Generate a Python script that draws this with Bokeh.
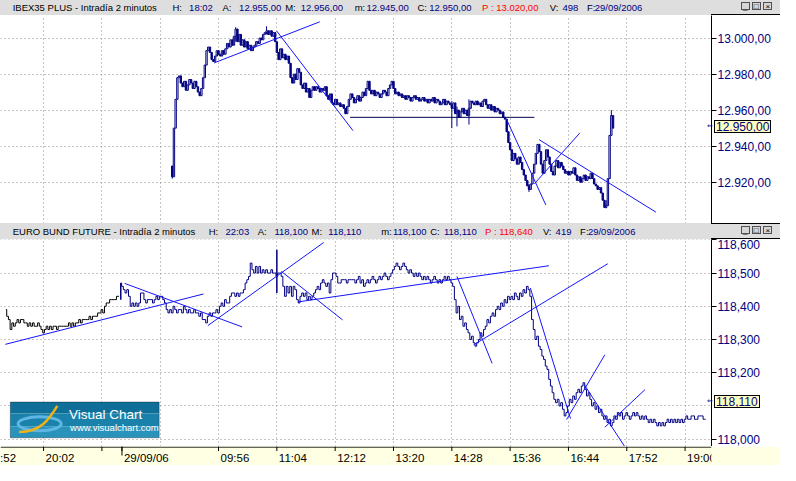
from bokeh.plotting import figure
from bokeh.layouts import column
from bokeh.models import FixedTicker, Label, BoxAnnotation, Div, Range1d, Grid, Span
from bokeh.core.properties import value
from bokeh.embed import file_html
from bokeh.resources import INLINE

# ---------------- data ----------------
# IBEX35 PLUS, 2-minute candles (close of each bar); open = previous close
ibex_first_open = 12929
ibex_close = [
    12923, 12950, 12966, 12978, 12979, 12975,
    12973, 12976, 12971, 12974, 12977, 12975, 12972, 12976, 12973, 12970,
    12968, 12972, 12978, 12985, 12993, 12995, 12992, 12988, 12987, 12990,
    12993, 12991, 12990, 12993, 12991, 12994, 12997, 12995, 12999, 12996, 13001,
    13005, 12998, 13002, 12996, 12999, 12995, 12998, 12994, 12996, 12993, 12995, 12996,
    12998, 12997, 13000, 12999, 13002, 13003, 13004, 13002, 13004, 13001, 13003,
    12998, 12992, 12988, 12994, 12989, 12991, 12988, 12990, 12986, 12978, 12975, 12980,
    12977, 12983, 12981, 12974, 12972, 12975, 12970, 12972, 12967, 12971, 12973,
    12971, 12973, 12972, 12970, 12972, 12971, 12973, 12968, 12966, 12969,
    12964, 12963, 12966, 12963, 12964, 12962, 12963, 12961, 12958, 12962, 12966, 12969,
    12967, 12964, 12966, 12968, 12965, 12967, 12970, 12968, 12972, 12976, 12971,
    12969, 12971, 12968, 12970, 12969, 12967, 12969, 12971, 12970, 12968,
    12972, 12974, 12976, 12972, 12969, 12970, 12968, 12969, 12967, 12968,
    12966, 12968, 12967, 12965, 12967, 12968, 12966, 12967, 12965, 12966,
    12967, 12965, 12966, 12964, 12966, 12965, 12967, 12964, 12966, 12965, 12963,
    12964, 12966, 12963, 12965, 12964, 12963, 12961, 12964, 12958,
    12960, 12956, 12959, 12961, 12958, 12960, 12957, 12961, 12965,
    12964, 12963, 12965, 12963, 12964, 12962, 12965, 12966, 12963, 12961, 12963,
    12960, 12962, 12959, 12961, 12960, 12958, 12959, 12956, 12955,
    12948, 12942, 12938, 12932, 12936, 12933, 12930, 12934, 12931,
    12927, 12924, 12921, 12918, 12916, 12919, 12925, 12930, 12936, 12941, 12937,
    12930, 12925, 12932, 12938, 12934, 12930, 12926, 12924, 12929, 12932, 12928,
    12931, 12929, 12927, 12925, 12926, 12924, 12926, 12925, 12928,
    12924, 12921, 12923, 12920, 12922, 12924, 12921, 12923, 12922,
    12925, 12922, 12919, 12918, 12916, 12917, 12914, 12910, 12906, 12907,
    12922, 12946, 12957, 12950,
]
ibex_start_bar = 75
ibex_wick_bar = [0, 37, 55, 163, 166, 173, 208, 253, 256]
ibex_wick_low = [12922, 12998, 13002, 12950, 12951, 12952, 12914.6, 12905.5, 12946]
ibex_wick_high = [12929, 13006, 13006.5, 12965, 12962, 12966, 12919, 12910, 12960]

# EURO BUND FUTURE, 2-minute closes: previous session (black) and current (navy)
bund_prev_start = -22
bund_prev = [
    118.39, 118.37, 118.36, 118.33, 118.35, 118.34, 118.35, 118.36, 118.35, 118.36,
    118.36, 118.35, 118.35, 118.34, 118.35, 118.34, 118.35, 118.34, 118.34, 118.35,
    118.34, 118.33, 118.32, 118.33, 118.34, 118.33, 118.34, 118.33, 118.34, 118.34,
    118.33, 118.34, 118.34, 118.34, 118.34, 118.34, 118.34, 118.35, 118.34, 118.35,
    118.34, 118.35, 118.35, 118.36, 118.35, 118.36, 118.36, 118.36, 118.36, 118.37,
    118.36, 118.37, 118.37, 118.37, 118.38, 118.38, 118.39, 118.38, 118.40, 118.41,
    118.41, 118.42, 118.42, 118.42, 118.42, 118.43, 118.43,
]
bund_cur_start = 45
bund_cur = [
    118.47, 118.46, 118.45, 118.44, 118.45, 118.43,
    118.40, 118.41, 118.40, 118.41, 118.40, 118.41,
    118.44, 118.44, 118.42, 118.41, 118.42, 118.42,
    118.42, 118.41, 118.42, 118.43, 118.42, 118.43,
    118.43, 118.42, 118.41, 118.39, 118.38, 118.39,
    118.38, 118.40, 118.39, 118.38, 118.39, 118.39,
    118.38, 118.40, 118.39, 118.38, 118.39, 118.38,
    118.38, 118.39, 118.38, 118.38, 118.37, 118.38,
    118.36, 118.36, 118.35, 118.37, 118.38, 118.37,
    118.38, 118.38, 118.39, 118.38, 118.40, 118.41,
    118.40, 118.42, 118.41, 118.41, 118.43, 118.44,
    118.44, 118.43, 118.44, 118.43, 118.44, 118.44,
    118.45, 118.47, 118.48, 118.49, 118.53, 118.51,
    118.50, 118.52, 118.50, 118.52, 118.50, 118.51,
    118.50, 118.51, 118.50, 118.50, 118.51, 118.50,
    118.50, 118.49, 118.50, 118.50, 118.49, 118.46,
    118.43, 118.46, 118.44, 118.46, 118.43, 118.46,
    118.45, 118.42, 118.41, 118.43, 118.44, 118.43,
    118.44, 118.42, 118.43, 118.42, 118.43, 118.44,
    118.45, 118.46, 118.45, 118.47, 118.48, 118.47,
    118.46, 118.47, 118.44, 118.48, 118.50, 118.50,
    118.49, 118.47, 118.47, 118.48, 118.48, 118.48,
    118.47, 118.48, 118.48, 118.48,
    118.48, 118.47, 118.48, 118.49, 118.47, 118.48, 118.46, 118.47, 118.48, 118.47,
    118.48, 118.49, 118.48, 118.47, 118.48, 118.49, 118.48, 118.49, 118.50, 118.49,
    118.48, 118.49, 118.50, 118.51, 118.52, 118.53, 118.52, 118.51, 118.52, 118.53,
    118.52, 118.51, 118.50, 118.51, 118.50, 118.49, 118.50, 118.49, 118.50, 118.49,
    118.48, 118.49, 118.48, 118.49, 118.48, 118.47, 118.48, 118.49, 118.48, 118.47,
    118.48, 118.47, 118.48, 118.49, 118.48, 118.49, 118.48, 118.47,
    118.46, 118.42, 118.38, 118.40, 118.36, 118.37, 118.34, 118.35, 118.33, 118.32,
    118.30, 118.31, 118.29, 118.28, 118.29, 118.30, 118.32, 118.31, 118.33, 118.34,
    118.36, 118.35, 118.37, 118.38, 118.37, 118.39, 118.40, 118.39, 118.41, 118.40,
    118.42, 118.41, 118.43, 118.42, 118.43, 118.42, 118.44, 118.43, 118.42, 118.44,
    118.43, 118.45, 118.44, 118.46, 118.45, 118.43, 118.36, 118.33, 118.30, 118.31,
    118.28, 118.27, 118.25, 118.24, 118.22, 118.21, 118.18, 118.16, 118.14, 118.12,
    118.11, 118.12, 118.10, 118.11, 118.09, 118.07, 118.08, 118.10, 118.12, 118.11,
    118.13, 118.12, 118.14, 118.15, 118.14, 118.16, 118.17, 118.15, 118.13, 118.14,
    118.12, 118.10, 118.11, 118.09, 118.10, 118.08, 118.09, 118.07, 118.06, 118.07,
    118.05, 118.06, 118.04, 118.05, 118.07, 118.06, 118.08, 118.07, 118.08, 118.06,
    118.07, 118.08, 118.07, 118.06, 118.07, 118.08, 118.07, 118.08, 118.07, 118.06,
    118.07, 118.06, 118.07, 118.06, 118.05, 118.06, 118.05, 118.06, 118.05, 118.04,
    118.05, 118.04, 118.05, 118.04, 118.05, 118.06, 118.05, 118.06, 118.05, 118.06,
    118.05, 118.06, 118.05, 118.06, 118.05, 118.06, 118.07, 118.06, 118.06, 118.07,
    118.07, 118.06, 118.06, 118.07, 118.07, 118.07, 118.06, 118.06,
]
bund_spike_bar = [45, 136]
bund_spike_low = [118.42, 118.44]
bund_spike_high = [118.47, 118.57]

# hand-drawn trend lines (bar index, price)
ibex_tl_x0 = [99.4, 135.9, 269.9, 286.1, 288.9]
ibex_tl_y0 = [12986.2, 13003.9, 12954.9, 12919.1, 12943.6]
ibex_tl_x1 = [161.0, 180.4, 292.8, 312.7, 357.0]
ibex_tl_y1 = [13009.0, 12948.6, 12907.4, 12947.4, 12903.4]
ibex_hline_x0 = [178.7]
ibex_hline_x1 = [286.1]
ibex_hline_y = [12956]

bund_tl_x0 = [-22.3, 47.2, 95.8, 138.6, 148.1, 241.0, 250.7, 283.8, 304.9, 315.2, 327.2]
bund_tl_y0 = [118.2855, 118.469, 118.342, 118.505, 118.413, 118.490, 118.284, 118.455, 118.059, 118.164, 118.036]
bund_tl_x1 = [93.2, 115.7, 163.3, 174.3, 294.6, 261.5, 328.9, 307.2, 327.2, 340.3, 350.6]
bund_tl_y1 = [118.437, 118.338, 118.592, 118.359, 118.522, 118.228, 118.528, 118.062, 118.254, 117.966, 118.149]

# axes
ibex_ticks = [12920, 12940, 12960, 12980, 13000]
ibex_tick_labels = ["12.920,00", "12.940,00", "12.960,00", "12.980,00", "13.000,00"]
bund_grid_ticks = [118.0, 118.1, 118.2, 118.3, 118.4, 118.5, 118.6]
bund_ticks = [118.0, 118.2, 118.3, 118.4, 118.5, 118.6]
bund_tick_labels = ["118,000", "118,200", "118,300", "118,400", "118,500", "118,600"]
x_grid_ticks = [-34, 0, 34, 68, 102, 136, 170, 204, 238, 272, 306, 340, 374]
x_tick_pos = [-34, 0, 34, 45.7, 102, 136, 170, 204, 238, 272, 306, 340, 374]
x_tick_labels = ["18:52", "20:02", "", "29/09/06", "09:56", "11:04", "12:12",
                 "13:20", "14:28", "15:36", "16:44", "17:52", "19:00"]
day_break_bar = [45.7]

ibex_last = 12950
ibex_last_label = "12.950,00"
bund_last = 118.11
bund_last_label = "118,110"

ibex_header = [("IBEX35 PLUS - Intradía 2 minutos", "k"), ("H:", "k"), ("18:02", "v"),
               ("A:", "k"), ("12.955,00", "v"), ("M:", "k"), ("12.956,00", "v"),
               ("m:", "k"), ("12.945,00", "v"), ("C:", "k"), ("12.950,00", "v"),
               ("P : 13.020,00", "r"), ("V:", "k"), ("498", "v"), ("F:", "k"), ("29/09/2006", "v")]
bund_header = [("EURO BUND FUTURE - Intradía 2 minutos", "k"), ("H:", "k"), ("22:03", "v"),
               ("A:", "k"), ("118,100", "v"), ("M:", "k"), ("118,110", "v"),
               ("m:", "k"), ("118,100", "v"), ("C:", "k"), ("118,110", "v"),
               ("P : 118,640", "r"), ("V:", "k"), ("419", "v"), ("F:", "k"), ("29/09/2006", "v")]

# ---------------- layout / style ----------------
SX = 780 / 796.0
FRAME_W = 711
RIGHT_W = 69
HEAD1_H = 15
P1_H = 208
HEAD2_H = 16
P2_H = 207
STRIP_H = 19
X_LO, X_HI = -25.12, 389.4
Y1_LO, Y1_HI = 12897.1, 13012.5
Y2_LO, Y2_HI = 117.978, 118.601

NAVY = "#000080"
TREND = "#1414ff"
GRID = "#8a8a8a"
STRIP = "#ffffe3"
HEAD_BG = "#dedede"
FONT = "Liberation Sans"
COLORS = {"k": "#000000", "v": NAVY, "r": "#ff0000"}

ibex_head_x = [13, 176, 193, 227, 244, 291, 307, 362, 374, 426, 438, 492, 561, 574, 599, 607]
bund_head_x = [13, 213, 230, 263, 280, 318, 335, 389, 401, 439, 453, 495, 554, 567, 592, 600]


def value_box(txt, top):
    # current-price tag that sits on the right price scale
    left = (FRAME_W + 3)
    return (f'<span style="position:absolute;left:{left - 7}px;top:{top + 2}px;font-family:\'DejaVu Sans\';'
            f'font-size:7px;line-height:8px;color:{NAVY};z-index:20;">&#8656;</span>'
            f'<span style="position:absolute;left:{left}px;top:{top}px;height:13px;padding:0 1px;'
            f'line-height:13px;font-size:12px;color:{NAVY};background:#ffffc0;'
            f'border:1px solid #000;white-space:nowrap;z-index:20;">{txt}</span>')


def hline(y):
    return (f'<div style="position:absolute;left:{FRAME_W}px;top:{y}px;width:{780 - FRAME_W}px;'
            f'height:1px;background:#000;"></div>')


def header(items, xs, h, top, extra=""):
    spans = []
    for (txt, c), x in zip(items, xs):
        spans.append(
            f'<span style="position:absolute;left:{x * SX:.1f}px;top:{top}px;'
            f'color:{COLORS[c]};white-space:nowrap;">{txt}</span>')
    for bx, glyph in zip([756, 767, 779], ["_", "&#9633;", "&#215;"]):
        spans.append(
            f'<span style="position:absolute;left:{bx * SX:.1f}px;top:{top}px;width:9px;'
            f'height:8px;border:1px solid #505050;background:#d6d6d6;font-size:8px;'
            f'line-height:7px;text-align:center;color:#000;">{glyph}</span>')
    html = (f'<div style="position:relative;width:780px;height:{h}px;'
            f'font-family:\'{FONT}\',Arial,sans-serif;font-size:9.5px;line-height:11px;">'
            f'<div style="position:absolute;left:0;top:0;width:780px;height:{h}px;background:{HEAD_BG};"></div>'
            + "".join(spans) + extra + "</div>")
    return Div(text=html, width=780, height=h, margin=(0, 0, 0, 0), styles={"overflow": "visible"})


xr = Range1d(X_LO, X_HI)


def panel(y_lo, y_hi, h, grid_ticks, ticks, labels):
    p = figure(frame_width=FRAME_W, frame_height=h, x_range=xr, y_range=Range1d(y_lo, y_hi),
               x_axis_location=None, y_axis_location="right", toolbar_location=None, tools="",
               output_backend="svg", min_border_left=0, min_border_right=RIGHT_W,
               min_border_top=0, min_border_bottom=0, outline_line_color=None,
               background_fill_color="white", border_fill_color="white")
    for r in list(p.center):
        if isinstance(r, Grid):
            r.visible = False
    p.add_layout(Grid(dimension=0, ticker=FixedTicker(ticks=x_grid_ticks),
                      grid_line_color=GRID, grid_line_dash="1 3"))
    p.add_layout(Grid(dimension=1, ticker=FixedTicker(ticks=grid_ticks),
                      grid_line_color=GRID, grid_line_dash="1 3"))
    ax = p.yaxis[0]
    ax.ticker = FixedTicker(ticks=ticks, minor_ticks=[])
    ax.major_label_overrides = {t: l for t, l in zip(ticks, labels)}
    ax.axis_line_color = "black"
    ax.major_tick_line_color = "black"
    ax.major_tick_out = 5
    ax.major_tick_in = 0
    ax.minor_tick_line_color = None
    ax.major_label_standoff = 1
    ax.major_label_text_color = NAVY
    ax.major_label_text_font = FONT
    ax.major_label_text_font_size = "12px"
    return p


# ---- top panel: IBEX candles ----
p1 = panel(Y1_LO, Y1_HI, P1_H, ibex_ticks, ibex_ticks, ibex_tick_labels)
ibex_open = [ibex_first_open] + ibex_close[:-1]
ibex_x = [ibex_start_bar + i for i in range(len(ibex_close))]
up_x, up_t, up_b, dn_x, dn_t, dn_b = [], [], [], [], [], []
for x, o, c in zip(ibex_x, ibex_open, ibex_close):
    if c >= o:
        up_x.append(x); up_t.append(c); up_b.append(o)
    else:
        dn_x.append(x); dn_t.append(o); dn_b.append(c)
wx = [ibex_start_bar + i for i in ibex_wick_bar]
p1.segment(x0=wx, y0=ibex_wick_low, x1=wx, y1=ibex_wick_high, line_color=NAVY, line_width=1)
p1.vbar(x=dn_x, width=0.8, top=dn_t, bottom=dn_b, fill_color=NAVY, line_color=NAVY, line_width=1)
p1.vbar(x=up_x, width=0.8, top=up_t, bottom=up_b, fill_color="white", line_color=NAVY, line_width=1)
p1.segment(x0=ibex_tl_x0, y0=ibex_tl_y0, x1=ibex_tl_x1, y1=ibex_tl_y1, line_color=TREND, line_width=1)
p1.segment(x0=ibex_hline_x0, y0=ibex_hline_y, x1=ibex_hline_x1, y1=ibex_hline_y,
           line_color="#00005a", line_width=1)

# ---- bottom panel: Bund ----
p2 = panel(Y2_LO, Y2_HI, P2_H, bund_grid_ticks, bund_ticks, bund_tick_labels)
prev_x = [bund_prev_start + i for i in range(len(bund_prev))]
cur_x = [bund_cur_start + i for i in range(len(bund_cur))]
p2.step(prev_x, bund_prev, mode="center", line_color="black", line_width=1)
p2.step(cur_x, bund_cur, mode="center", line_color=NAVY, line_width=1)
p2.segment(x0=bund_spike_bar, y0=bund_spike_low, x1=bund_spike_bar, y1=bund_spike_high,
           line_color=NAVY, line_width=1.5)
p2.segment(x0=bund_tl_x0, y0=bund_tl_y0, x1=bund_tl_x1, y1=bund_tl_y1, line_color=TREND, line_width=1)


# Visual Chart logo (decoration, frame-relative screen px)
def fx(px):
    return px * FRAME_W / 726.0


def fy(py):
    return (461 - py) * P2_H / 214.0


def dx(px):
    return X_LO + px / 726.0 * (X_HI - X_LO)


def dy(py):
    return Y2_LO + (461 - py) / 214.0 * (Y2_HI - Y2_LO)


for top, bot, col in [(415, 427, "#0f6f98"), (427, 440, "#1a81aa"), (440, 452, "#2a93bb")]:
    p2.add_layout(BoxAnnotation(left=fx(10), right=fx(162), top=fy(top), bottom=fy(bot),
                                left_units="screen", right_units="screen", top_units="screen",
                                bottom_units="screen", fill_color=col, fill_alpha=1,
                                line_color=None))
p2.add_layout(BoxAnnotation(left=fx(10), right=fx(162), top=fy(415), bottom=fy(452),
                            left_units="screen", right_units="screen", top_units="screen",
                            bottom_units="screen", fill_alpha=0, line_color="black", line_width=1))
p2.add_layout(Label(x=fx(70), y=fy(427.5), x_units="screen", y_units="screen", text="Visual Chart",
                    text_font=FONT, text_font_size="13.5px", text_color="white",
                    text_baseline="middle", text_align="left"))
p2.add_layout(Label(x=fx(71), y=fy(441.5), x_units="screen", y_units="screen",
                    text="www.visualchart.com", text_font=FONT, text_font_size="9.5px",
                    text_color="white", text_baseline="middle", text_align="left"))
p2.ellipse(x=[dx(40)], y=[dy(437.5)], width=[44 * SX], height=[14], width_units="screen",
           height_units="screen", fill_color=None, line_color="#5fb6e4", line_width=3,
           level="overlay")
p2.bezier(x0=[dx(19)], y0=[dy(446)], x1=[dx(58)], y1=[dy(419)], cx0=[dx(42)], cy0=[dy(446)],
          cx1=[dx(50)], cy1=[dy(432)], line_color="#f2b215", line_width=2.5, level="overlay")

# ---- time axis strip ----
p3 = figure(frame_width=FRAME_W, frame_height=STRIP_H, x_range=xr, y_range=Range1d(0, 1),
            x_axis_location=None, y_axis_location=None, toolbar_location=None, tools="",
            output_backend="svg", min_border_left=0, min_border_right=RIGHT_W,
            min_border_top=0, min_border_bottom=0, outline_line_color=None,
            background_fill_color=STRIP, border_fill_color=STRIP)
for r in list(p3.center):
    if isinstance(r, Grid):
        r.visible = False
p3.add_layout(Span(location=1 - 0.6 / STRIP_H, dimension="width", line_color="black", line_width=1))
p3.segment(x0=x_tick_pos, y0=[1] * len(x_tick_pos), x1=x_tick_pos,
           y1=[1 - 4.5 / STRIP_H] * len(x_tick_pos), line_color="black", line_width=1)
p3.segment(x0=day_break_bar, y0=[1] * len(day_break_bar), x1=day_break_bar,
           y1=[1 - 9 / STRIP_H] * len(day_break_bar), line_color="black", line_width=1)
lab_x = [x for x, t in zip(x_tick_pos, x_tick_labels) if t]
lab_t = [t for t in x_tick_labels if t]
p3.text(x=lab_x, y=[0.38] * len(lab_x), text=lab_t, x_offset=2,
        text_align="left", text_baseline="middle", text_font=value(FONT),
        text_font_size="11.5px", text_color="black")

# current-price tags on the right scales (placed with the header that follows panel 1)
ibex_tag_y = (Y1_HI - ibex_last) / (Y1_HI - Y1_LO) * P1_H - P1_H - 7.5
bund_tag_y = HEAD2_H + (Y2_HI - bund_last) / (Y2_HI - Y2_LO) * P2_H - 7.5
tags = (value_box(ibex_last_label, round(ibex_tag_y)) + value_box(bund_last_label, round(bund_tag_y))
        + hline(0) + hline(HEAD2_H - 1))

layout = column(header(ibex_header, ibex_head_x, HEAD1_H, 2, hline(HEAD1_H - 1)), p1,
                header(bund_header, bund_head_x, HEAD2_H, 3, tags), p2, p3, spacing=0)

open("out.html", "w").write(file_html(layout, INLINE))
